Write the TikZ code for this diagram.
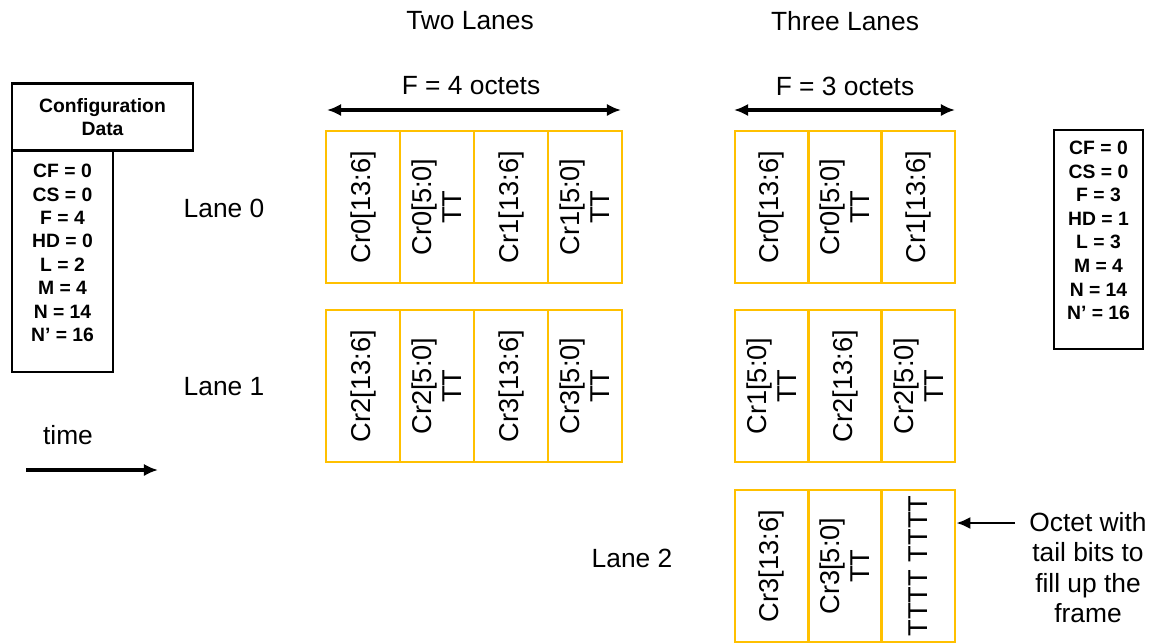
\documentclass[tikz,border=0pt]{standalone}
\usepackage{fontspec}
\setmainfont{Liberation Sans}
\usetikzlibrary{arrows.meta}
\definecolor{octetorange}{HTML}{FFC000}
\tikzset{
	octet/.style={draw=octetorange, line width=1.5pt, rotate=90, minimum width=3.04cm,
		inner sep=0pt, align=center, font=\fontsize{15.5}{17}\selectfont},
	label15/.style={font=\fontsize{15}{17.5}\selectfont, align=center, inner sep=0pt},
	cfgbox/.style={draw, line width=1.5pt, inner sep=0pt},
	cfgtext/.style={font=\bfseries\fontsize{11}{13.3}\selectfont, align=center, inner sep=0pt},
	thickarrow/.style={line width=2.2pt, -{Latex[length=8pt,width=7pt]}}
}
\begin{document}
\begin{tikzpicture}[x=0.02cm,y=-0.02cm]
	\useasboundingbox (0,0) rectangle (1156,643);
	% config data (left)
		\node[cfgbox, minimum width=3.62cm, minimum height=1.34cm, cfgtext] (cfghead) at (102.5,117) {Configuration\\[-0.5pt]Data};
		\node[cfgbox, minimum width=2.02cm, minimum height=4.42cm] (cfgleft) at (62.5,261.5) {};
		\node[cfgtext] (cfgleftvals) at (62.5,253) {CF = 0\\CS = 0\\F = 4\\HD = 0\\L = 2\\M = 4\\N = 14\\N' = 16};
	% config data (right)
		\node[cfgbox, line width=1.2pt, minimum width=1.78cm, minimum height=4.38cm] (cfgright) at (1098.5,239.5) {};
		\node[cfgtext, font=\bfseries\fontsize{11}{13.4}\selectfont] (cfgrightvals) at (1098.5,230.5) {CF = 0\\CS = 0\\F = 3\\HD = 1\\L = 3\\M = 4\\N = 14\\N' = 16};
	% titles
		\node[label15] (twotitle) at (470,21) {Two Lanes};
		\node[label15] (threetitle) at (845,21) {Three Lanes};
		\node[label15] (twoF) at (471,86) {F = 4 octets};
		\node[label15] (threeF) at (845,86) {F = 3 octets};
		\coordinate (twoFl) at (327,110);
		\coordinate (twoFr) at (621,110);
		\coordinate (threeFl) at (734,110);
		\coordinate (threeFr) at (955,110);
		\draw[thickarrow, {Latex[length=8pt,width=7pt]}-{Latex[length=8pt,width=7pt]}] (twoFl) -- (twoFr);
		\draw[thickarrow, {Latex[length=8pt,width=7pt]}-{Latex[length=8pt,width=7pt]}] (threeFl) -- (threeFr);
	% lane labels
		\node[label15] (lane0) at (224,208) {Lane 0};
		\node[label15] (lane1) at (224,387) {Lane 1};
		\node[label15] (lane2) at (632,558) {Lane 2};
	% time
		\node[label15] (time) at (68,435) {time};
		\coordinate (timel) at (26,470);
		\coordinate (timer) at (158,470);
		\draw[thickarrow] (timel) -- (timer);
	% two lanes
		\foreach \txt [count=\i] in {{Cr0[13:6]},{Cr0[5:0]\\TT},{Cr1[13:6]},{Cr1[5:0]\\TT}}{
			\node[octet, minimum height=1.48cm] (twoA-\i) at (289+74*\i,207) {\txt};
			}
		\foreach \txt [count=\i] in {{Cr2[13:6]},{Cr2[5:0]\\TT},{Cr3[13:6]},{Cr3[5:0]\\TT}}{
			\node[octet, minimum height=1.48cm] (twoB-\i) at (289+74*\i,386) {\txt};
			}
	% three lanes
		\foreach \txt [count=\i] in {{Cr0[13:6]},{Cr0[5:0]\\TT},{Cr1[13:6]}}{
			\node[octet, minimum height=1.467cm] (threeA-\i) at (698.33+73.33*\i,207) {\txt};
			}
		\foreach \txt [count=\i] in {{Cr1[5:0]\\TT},{Cr2[13:6]},{Cr2[5:0]\\TT}}{
			\node[octet, minimum height=1.467cm] (threeB-\i) at (698.33+73.33*\i,386) {\txt};
			}
		\foreach \txt [count=\i] in {{Cr3[13:6]},{Cr3[5:0]\\TT},{TTTT TTTT}}{
			\node[octet, minimum height=1.467cm] (threeC-\i) at (698.33+73.33*\i,566) {\txt};
			}
	% tail bits note
		\node[label15, font=\fontsize{15}{17.3}\selectfont] (tailnote) at (1088,567.5) {Octet with\\tail bits to\\fill up the\\frame};
		\coordinate (tailfrom) at (1015,523);
		\draw[thickarrow, line width=1.6pt] (tailfrom) -- (threeC-3.south |- tailfrom);
\end{tikzpicture}
\end{document}
